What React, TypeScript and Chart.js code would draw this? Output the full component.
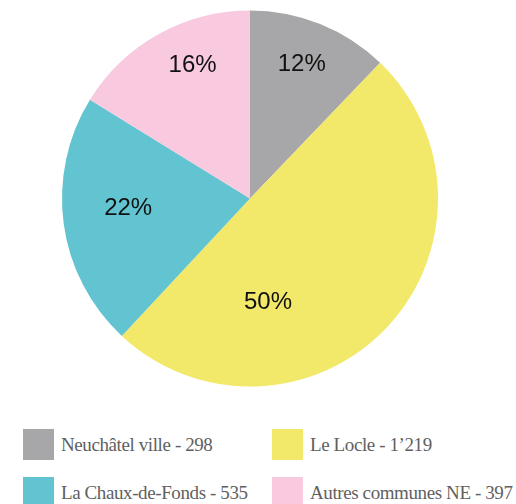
import React, { useEffect, useRef } from "react";
import { Chart, registerables } from "chart.js";

Chart.register(...registerables);

const categories = ["Neuchâtel ville", "Le Locle", "La Chaux-de-Fonds", "Autres communes NE"];
const values = [298, 1219, 535, 397];
const legendValueLabels = ["298", "1’219", "535", "397"];
const colors = ["#a7a7a9", "#f2e86a", "#63c4d1", "#f8c9df"];
// label placement within each slice: fraction along the arc, fraction of radius
const labelAngleFrac = [0.48, 0.705, 0.54, 0.6];
const labelRadiusFrac = [0.767, 0.56, 0.65, 0.77];

const labelPlugin = {
  id: "sliceLabels",
  afterDatasetsDraw(chart: any) {
    const ctx = chart.ctx;
    const meta = chart.getDatasetMeta(0);
    const data = chart.data.datasets[0].data as number[];
    const total = data.reduce((a, b) => a + b, 0);
    ctx.save();
    ctx.font = '24px "Liberation Sans", Arial, sans-serif';
    ctx.fillStyle = "#111";
    ctx.textAlign = "center";
    ctx.textBaseline = "middle";
    meta.data.forEach((arc: any, i: number) => {
      const { x, y, startAngle, endAngle, outerRadius } = arc.getProps(
        ["x", "y", "startAngle", "endAngle", "outerRadius"],
        true
      );
      const a = startAngle + (endAngle - startAngle) * labelAngleFrac[i];
      const r = outerRadius * labelRadiusFrac[i];
      const pct = Math.round((data[i] / total) * 100) + "%";
      ctx.fillText(pct, x + Math.cos(a) * r, y + Math.sin(a) * r);
    });
    ctx.restore();
  },
};

export default function App() {
  const ref = useRef<HTMLCanvasElement>(null);
  useEffect(() => {
    if (!ref.current) return;
    const chart = new Chart(ref.current, {
      type: "pie",
      data: {
        labels: categories,
        datasets: [
          {
            data: values,
            backgroundColor: colors,
            borderWidth: 0,
            hoverOffset: 0,
          },
        ],
      },
      options: {
        animation: false,
        responsive: false,
        maintainAspectRatio: false,
        layout: { padding: { left: 62, right: 78, top: 10.5, bottom: 23.5 } },
        plugins: {
          legend: { display: false },
          tooltip: { enabled: false },
        },
      },
      plugins: [labelPlugin],
    });
    return () => chart.destroy();
  }, []);

  const col = [23, 272];
  const row = [429, 477];

  return (
    <div style={{ position: "fixed", left: 0, top: 0, width: 516, height: 504, background: "#fff", overflow: "hidden" }}>
      <canvas ref={ref} width={516} height={410} style={{ position: "absolute", left: 0, top: 0, width: 516, height: 410 }} />
      {categories.map((c, i) => (
        <div
          key={c}
          style={{
            position: "absolute",
            left: col[i % 2],
            top: row[Math.floor(i / 2)],
            height: 31,
            display: "flex",
            alignItems: "center",
            whiteSpace: "nowrap",
          }}
        >
          <div style={{ width: 31, height: 31, background: colors[i], flex: "none" }} />
          <span
            style={{
              marginLeft: 7,
              fontFamily: '"Liberation Serif", "DejaVu Serif", serif',
              fontSize: 19,
              letterSpacing: -0.4,
              color: "#5f5f5f",
            }}
          >
            {c} - {legendValueLabels[i]}
          </span>
        </div>
      ))}
    </div>
  );
}
